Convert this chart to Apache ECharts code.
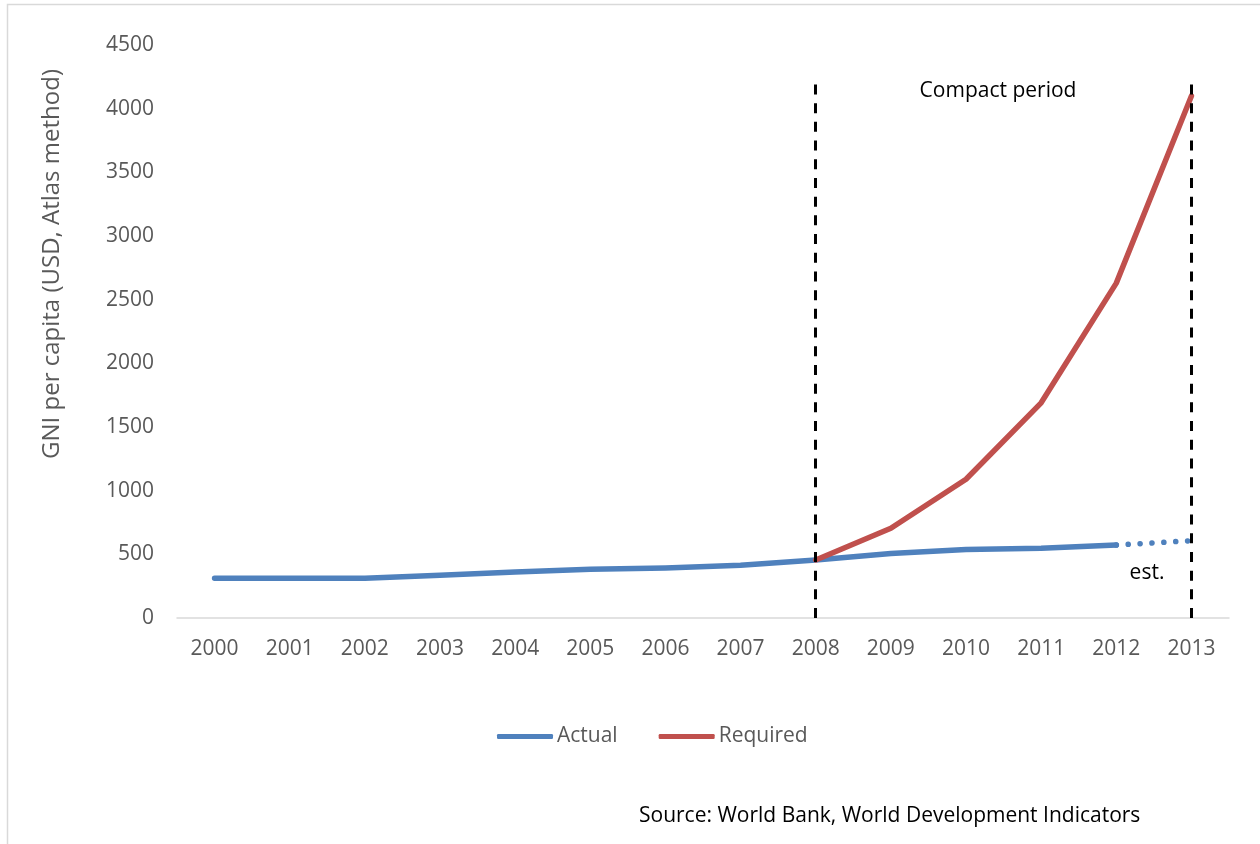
<!DOCTYPE html>
<html><head><meta charset="utf-8">
<script src="https://cdn.jsdelivr.net/npm/echarts@6/dist/echarts.min.js"></script>
<style>html,body{margin:0;padding:0;background:#fff}#c{width:1260px;height:844px}</style>
</head><body><div id="c"></div>
<script>
const years = ['2000','2001','2002','2003','2004','2005','2006','2007','2008','2009','2010','2011','2012','2013'];
const actual = [312, 312, 312, 335, 362, 382, 393, 414, 456, 506, 538, 548, 573, null];
const estimate = [null, null, null, null, null, null, null, null, null, null, null, null, 573, 607];
const required = [null, null, null, null, null, null, null, null, 456, 705, 1090, 1690, 2630, 4100];
const yTicks = { min: 0, max: 4500, interval: 500 };
const periodBounds = ['2008', '2013'];
const periodTop = 4190;
const periodLabel = 'Compact period';
const estLabel = 'est.';
const yTitle = 'GNI per capita (USD, Atlas method)';
const sourceText = 'Source: World Bank, World Development Indicators';

const FONT = 'Open Sans';
const chart = echarts.init(document.getElementById('c'), null, { renderer: 'canvas' });
chart.setOption({
  animation: false,
  backgroundColor: '#fff',
  textStyle: { fontFamily: FONT },
  grid: { left: 177, right: 31, top: 45, bottom: 226, containLabel: false },
  legend: {
    data: ['Actual', 'Required'],
    left: 492, top: 721,
    itemWidth: 56, itemHeight: 5, itemGap: 41,
    icon: 'roundRect',
    textStyle: { fontFamily: FONT, fontSize: 21, color: '#595959', padding: [0, 0, 0, -1] }
  },
  xAxis: {
    type: 'category', data: years, boundaryGap: true,
    axisLine: { lineStyle: { color: '#d9d9d9', width: 1.5 } },
    axisTick: { show: false },
    axisLabel: { color: '#595959', fontSize: 21, fontFamily: FONT, margin: 21 }
  },
  yAxis: {
    type: 'value', min: yTicks.min, max: yTicks.max, interval: yTicks.interval,
    axisLine: { show: false }, axisTick: { show: false }, splitLine: { show: false },
    axisLabel: { color: '#595959', fontSize: 21, fontFamily: FONT, margin: 23, formatter: v => String(v) }
  },
  series: [
    { name: 'Actual', type: 'line', data: actual, symbol: 'none', color: '#4F81BD',
      lineStyle: { width: 5.5, color: '#4F81BD', cap: 'round', join: 'round' }, z: 3 },
    { name: 'est', type: 'line', data: estimate, symbol: 'none', color: '#4F81BD',
      lineStyle: { width: 5.5, color: '#4F81BD', type: [0.1, 11.8], cap: 'round' }, z: 3 },
    { name: 'Required', type: 'line', data: required, symbol: 'none', color: '#C0504D',
      lineStyle: { width: 5.5, color: '#C0504D', cap: 'round', join: 'round' }, z: 4,
      markLine: {
        silent: true, symbol: 'none', label: { show: false },
        lineStyle: { color: '#000', type: [10, 8.7], width: 3 },
        data: periodBounds.map(y => [{ coord: [y, periodTop] }, { coord: [y, 0] }])
      }
    }
  ],
  graphic: [
    { type: 'rect', shape: { x: 7.5, y: 4.5, width: 1270, height: 860 },
      style: { fill: 'none', stroke: '#d9d9d9', lineWidth: 1.5 }, silent: true, z: -10 },
    { type: 'text', x: 52, y: 264, rotation: Math.PI / 2,
      style: { text: yTitle, fill: '#595959', font: '24px "Open Sans"', textAlign: 'center', textVerticalAlign: 'middle' } },
    { type: 'text', x: 998, y: 91,
      style: { text: periodLabel, fill: '#000', font: '21px "Open Sans"', textAlign: 'center', textVerticalAlign: 'middle' } },
    { type: 'text', x: 1147, y: 573,
      style: { text: estLabel, fill: '#000', font: '21px "Open Sans"', textAlign: 'center', textVerticalAlign: 'middle' } },
    { type: 'text', x: 639, y: 816,
      style: { text: sourceText, fill: '#000', font: '21px "Open Sans"', textAlign: 'left', textVerticalAlign: 'middle' } }
  ]
});
</script></body></html>
